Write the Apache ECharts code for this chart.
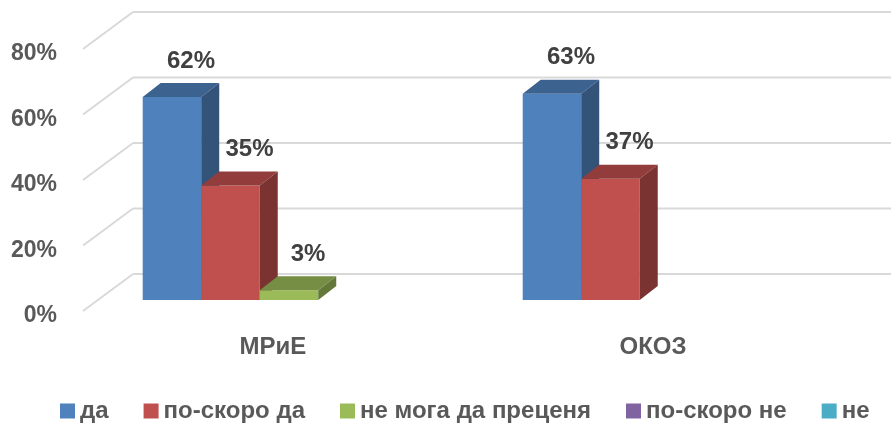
<!DOCTYPE html>
<html>
<head>
<meta charset="utf-8">
<script src="https://cdn.jsdelivr.net/npm/echarts@6/dist/echarts.min.js"></script>
<style>
  html, body { margin: 0; padding: 0; background: #fff; }
  #main { width: 891px; height: 426px; }
</style>
</head>
<body>
<div id="main"></div>
<script>
// данни
var categories = ['МРиЕ', 'ОКОЗ'];
var seriesNames = ['да', 'по-скоро да', 'не мога да преценя', 'по-скоро не', 'не'];
var seriesValues = [
    [62, 63],
    [35, 37],
    [3, 0],
    [0, 0],
    [0, 0]
];
var yTicks = [0, 20, 40, 60, 80];

var colors = ['#4F81BD', '#C0504D', '#9BBB59', '#8064A2', '#4BACC6'];
var FONT = "'Liberation Sans', Arial, sans-serif";

// дълбочина на 3D ефекта
var DEPTH = [50, -37];      // задна стена
var FRONT = [16, -11];      // предна страна на колоните
var SIDE = [18, -14];       // дебелина на колоната

function shade(hex, k) {
    var n = parseInt(hex.slice(1), 16);
    var r = Math.round(((n >> 16) & 255) * k);
    var g = Math.round(((n >> 8) & 255) * k);
    var b = Math.round((n & 255) * k);
    return 'rgb(' + r + ',' + g + ',' + b + ')';
}

// решетка - задна стена и диагонали
function renderGrid(params, api) {
    var cs = params.coordSys;
    var y = api.coord([0, api.value(1)])[1];
    var x0 = cs.x;
    var st = { stroke: '#D9D9D9', lineWidth: 2 };
    return {
        type: 'group',
        children: [
            { type: 'line', shape: { x1: x0, y1: y, x2: x0 + DEPTH[0], y2: y + DEPTH[1] }, style: st },
            { type: 'line', shape: { x1: x0 + DEPTH[0], y1: y + DEPTH[1], x2: x0 + cs.width + DEPTH[0], y2: y + DEPTH[1] }, style: st }
        ]
    };
}

function makeBar(s) {
    return function (params, api) {
        var v = api.value(1);
        if (!v) return null;
        var c = api.coord([api.value(0), v]);
        var base = api.coord([api.value(0), 0])[1];
        var bw = api.size([1, 0])[0] * 0.154;
        var x0 = c[0] - 2.5 * bw + s * bw + FRONT[0];
        var yt = c[1] + FRONT[1];
        var yb = base + FRONT[1];
        var col = colors[s];
        return {
            type: 'group',
            children: [
                { type: 'rect', shape: { x: x0, y: yt, width: bw, height: yb - yt }, style: { fill: col } },
                { type: 'polygon', shape: { points: [[x0, yt], [x0 + bw, yt], [x0 + bw + SIDE[0], yt + SIDE[1]], [x0 + SIDE[0], yt + SIDE[1]]] }, style: { fill: shade(col, 0.76) } },
                { type: 'polygon', shape: { points: [[x0 + bw, yt], [x0 + bw + SIDE[0], yt + SIDE[1]], [x0 + bw + SIDE[0], yb + SIDE[1]], [x0 + bw, yb]] }, style: { fill: shade(col, 0.64) } },
                { type: 'text', style: { text: v + '%', x: x0 + bw / 2 + 19, y: yt - 36, align: 'center', verticalAlign: 'middle', fill: '#404040', font: 'bold 24px ' + FONT } }
            ]
        };
    };
}

var series = [{
    type: 'custom',
    name: 'grid',
    renderItem: renderGrid,
    silent: true,
    z: 1,
    data: yTicks.map(function (t) { return [0, t]; })
}];
for (var s = 0; s < seriesNames.length; s++) {
    series.push({
        type: 'custom',
        name: seriesNames[s],
        renderItem: makeBar(s),
        itemStyle: { color: colors[s] },
        z: 2,
        data: seriesValues[s].map(function (v, i) { return [i, v]; })
    });
}

var myChart = echarts.init(document.getElementById('main'));
var option = {
    animation: false,
    grid: { left: 83, right: 48, top: 49, bottom: 115, outerBoundsMode: 'none', containLabel: false },
    legend: {
        data: seriesNames,
        left: 55,
        top: 394,
        icon: 'rect',
        itemWidth: 15,
        itemHeight: 15,
        itemGap: 35,
        textStyle: { color: '#595959', fontSize: 24, fontWeight: 'bold', fontFamily: FONT }
    },
    xAxis: {
        type: 'category',
        data: categories,
        axisLine: { show: false },
        axisTick: { show: false },
        axisLabel: { margin: 24, color: '#595959', fontSize: 24, fontWeight: 'bold', fontFamily: FONT }
    },
    yAxis: {
        type: 'value',
        min: 0,
        max: 80,
        interval: 20,
        axisLine: { show: false },
        axisTick: { show: false },
        splitLine: { show: false },
        axisLabel: {
            margin: 26,
            formatter: function (v) { return '{p|' + v + '%}'; },
            rich: { p: { color: '#595959', fontSize: 23, fontWeight: 'bold', fontFamily: FONT, padding: [10, 0, 0, 0] } }
        }
    },
    series: series
};
myChart.setOption(option);
</script>
</body>
</html>
